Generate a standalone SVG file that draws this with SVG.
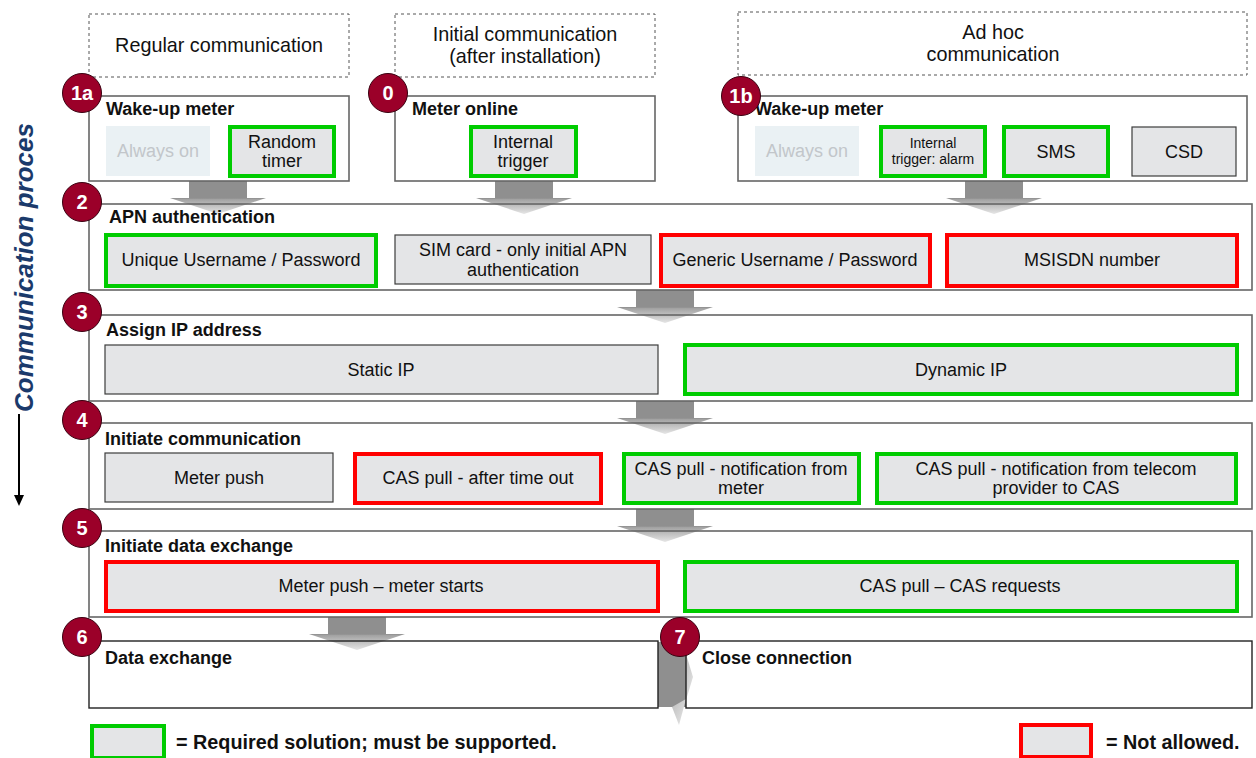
<svg xmlns="http://www.w3.org/2000/svg" width="1256" height="758" viewBox="0 0 1256 758">
<style>
text{font-family:"Liberation Sans",Arial,Helvetica,sans-serif;fill:#111}
.hdr{fill:none;stroke:#555;stroke-width:1;stroke-dasharray:3 3}
.ht{font-size:19.8px;text-anchor:middle}
.row{fill:none;stroke:#666;stroke-width:1.6}
.ttl{font-size:18px;font-weight:bold}
.opt{fill:#e4e5e7;stroke:#3c3c3c;stroke-width:1.2}
.ok{fill:#e4e5e7;stroke:#00cc00;stroke-width:4}
.no{fill:#e4e5e7;stroke:#ff0000;stroke-width:4}
.off{fill:#eaf1f4}
.offt{font-size:18px;text-anchor:middle;fill:#c2c6ca}
.ot{font-size:18px;text-anchor:middle}
.st{font-size:14px;text-anchor:middle}
.bdg{fill:#9b0029;stroke:#3a0010;stroke-width:1}
.bt{font-size:20px;font-weight:bold;fill:#fff;text-anchor:middle}
.leg{font-size:19.8px;font-weight:bold}
</style>
<defs>
<linearGradient id="ag" x1="0" y1="0" x2="0" y2="1">
<stop offset="0" stop-color="#8f8f8f"/>
<stop offset="0.52" stop-color="#8f8f8f"/>
<stop offset="0.56" stop-color="#a3a3a3"/>
<stop offset="1" stop-color="#e6e6e6"/>
</linearGradient>
<linearGradient id="hg" x1="0" y1="0" x2="1" y2="1">
<stop offset="0" stop-color="#bdbdbd"/>
<stop offset="1" stop-color="#e8e8e8"/>
</linearGradient>
<path id="arr" d="M -29 0 H 29 V 17 H 48 L 0 33 L -48 17 H -29 Z" fill="url(#ag)"/>
</defs>
<rect width="1256" height="758" fill="#fff"/>

<g id="headers">
<rect class="hdr" x="89" y="14" width="260" height="63"/>
<text class="ht" x="219" y="52">Regular communication</text>
<rect class="hdr" x="395" y="14" width="260" height="63"/>
<text class="ht" x="525" y="41">Initial communication</text>
<text class="ht" x="525" y="63">(after installation)</text>
<rect class="hdr" x="738" y="12" width="509" height="63"/>
<text class="ht" x="993" y="39">Ad hoc</text>
<text class="ht" x="993" y="61">communication</text>
</g>

<g id="connectors">
<use href="#arr" x="218" y="181"/>
<use href="#arr" x="524" y="181"/>
<use href="#arr" x="994" y="181"/>
<use href="#arr" x="665" y="290"/>
<use href="#arr" x="665" y="401"/>
<use href="#arr" x="665" y="509"/>
<use href="#arr" x="357" y="617"/>
<rect x="658" y="642" width="28" height="65" fill="#8f8f8f"/>
<polygon points="686,654 693,677 686,700" fill="url(#hg)"/>
<polygon points="672,707 686,699 679,725" fill="url(#hg)"/>
<line x1="19" y1="414" x2="19" y2="497" stroke="#000" stroke-width="2"/>
<polygon points="14,495 24,495 19,506" fill="#000"/>
</g>

<text transform="translate(33,412) rotate(-90)" font-size="26" font-weight="bold" font-style="italic" textLength="289" lengthAdjust="spacingAndGlyphs" style="fill:#1b3a6b">Communication proces</text>

<g id="step1a">
<rect class="row" x="89" y="96" width="260" height="85"/>
<text class="ttl" x="106" y="115">Wake-up meter</text>
<rect class="off" x="106" y="126" width="104" height="50"/>
<text class="offt" x="158" y="157">Always on</text>
<rect class="ok" x="230" y="127" width="104" height="49"/>
<text class="ot" x="282" y="148">Random</text>
<text class="ot" x="282" y="167">timer</text>
</g>

<g id="step0">
<rect class="row" x="395" y="96" width="260" height="85"/>
<text class="ttl" x="412" y="115">Meter online</text>
<rect class="ok" x="471" y="127" width="105" height="49"/>
<text class="ot" x="523" y="148">Internal</text>
<text class="ot" x="523" y="167">trigger</text>
</g>

<g id="step1b">
<rect class="row" x="738" y="96" width="509" height="85"/>
<text class="ttl" x="755" y="115">Wake-up meter</text>
<rect class="off" x="755" y="126" width="104" height="50"/>
<text class="offt" x="807" y="157">Always on</text>
<rect class="ok" x="881" y="127" width="104" height="49"/>
<text class="st" x="933" y="148">Internal</text>
<text class="st" x="933" y="164">trigger: alarm</text>
<rect class="ok" x="1004" y="127" width="104" height="49"/>
<text class="ot" x="1056" y="158">SMS</text>
<rect class="opt" x="1132" y="127" width="104" height="49"/>
<text class="ot" x="1184" y="158">CSD</text>
</g>

<g id="step2">
<rect class="row" x="89" y="204" width="1163" height="86"/>
<text class="ttl" x="109" y="223">APN authentication</text>
<rect class="ok" x="106" y="235" width="270" height="51"/>
<text class="ot" x="241" y="266">Unique Username / Password</text>
<rect class="opt" x="395" y="235" width="256" height="49"/>
<text class="ot" x="523" y="256">SIM card - only initial APN</text>
<text class="ot" x="523" y="276">authentication</text>
<rect class="no" x="661" y="235" width="269" height="51"/>
<text class="ot" x="795" y="266">Generic Username / Password</text>
<rect class="no" x="947" y="235" width="290" height="51"/>
<text class="ot" x="1092" y="266">MSISDN number</text>
</g>

<g id="step3">
<rect class="row" x="89" y="315" width="1163" height="86"/>
<text class="ttl" x="106" y="336">Assign IP address</text>
<rect class="opt" x="105" y="345" width="553" height="49"/>
<text class="ot" x="381" y="376">Static IP</text>
<rect class="ok" x="685" y="345" width="552" height="49"/>
<text class="ot" x="961" y="376">Dynamic IP</text>
</g>

<g id="step4">
<rect class="row" x="89" y="423" width="1163" height="86"/>
<text class="ttl" x="105" y="445">Initiate communication</text>
<rect class="opt" x="105" y="453" width="228" height="49"/>
<text class="ot" x="219" y="484">Meter push</text>
<rect class="no" x="355" y="454" width="246" height="49"/>
<text class="ot" x="478" y="484">CAS pull - after time out</text>
<rect class="ok" x="624" y="454" width="235" height="49"/>
<text class="ot" x="741" y="475">CAS pull - notification from</text>
<text class="ot" x="741" y="494">meter</text>
<rect class="ok" x="877" y="454" width="359" height="49"/>
<text class="ot" x="1056" y="475">CAS pull - notification from telecom</text>
<text class="ot" x="1056" y="494">provider to CAS</text>
</g>

<g id="step5">
<rect class="row" x="89" y="531" width="1163" height="86"/>
<text class="ttl" x="105" y="552">Initiate data exchange</text>
<rect class="no" x="106" y="562" width="552" height="49"/>
<text class="ot" x="381" y="592">Meter push – meter starts</text>
<rect class="ok" x="685" y="562" width="552" height="49"/>
<text class="ot" x="960" y="592">CAS pull – CAS requests</text>
</g>

<g id="step6">
<rect x="89" y="641" width="569" height="67" fill="none" stroke="#222" stroke-width="1.4"/>
<text class="ttl" x="105" y="664">Data exchange</text>
</g>

<g id="step7">
<rect x="686" y="641" width="566" height="67" fill="none" stroke="#222" stroke-width="1.4"/>
<text class="ttl" x="702" y="664">Close connection</text>
</g>

<g id="badges">
<circle class="bdg" cx="82" cy="93" r="19.5"/><text class="bt" x="82" y="100">1a</text>
<circle class="bdg" cx="388" cy="93" r="19.5"/><text class="bt" x="388" y="100">0</text>
<circle class="bdg" cx="741" cy="96" r="19.5"/><text class="bt" x="741" y="103">1b</text>
<circle class="bdg" cx="82" cy="202" r="19.5"/><text class="bt" x="82" y="209">2</text>
<circle class="bdg" cx="82" cy="312" r="19.5"/><text class="bt" x="82" y="319">3</text>
<circle class="bdg" cx="82" cy="420" r="19.5"/><text class="bt" x="82" y="427">4</text>
<circle class="bdg" cx="82" cy="528" r="19.5"/><text class="bt" x="82" y="535">5</text>
<circle class="bdg" cx="82" cy="637" r="19.5"/><text class="bt" x="82" y="644">6</text>
<circle class="bdg" cx="680" cy="637" r="19.5"/><text class="bt" x="680" y="644">7</text>
</g>

<g id="legend">
<rect class="ok" x="92" y="726" width="72" height="32"/>
<text class="leg" x="176" y="749">= Required solution; must be supported.</text>
<rect class="no" x="1021" y="725" width="70" height="32"/>
<text class="leg" x="1106" y="749">= Not allowed.</text>
</g>
</svg>
